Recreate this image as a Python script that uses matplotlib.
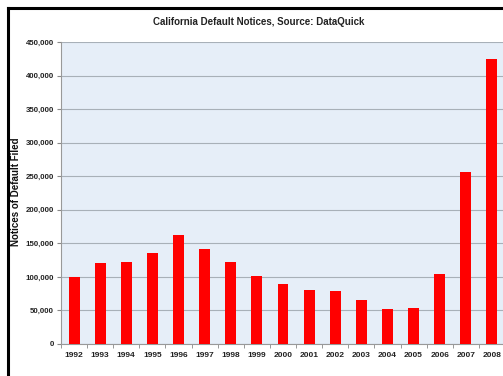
import matplotlib
matplotlib.use("Agg")
import matplotlib.pyplot as plt
from matplotlib.lines import Line2D
import numpy as np

years = ["1992", "1993", "1994", "1995", "1996", "1997", "1998", "1999", "2000",
         "2001", "2002", "2003", "2004", "2005", "2006", "2007", "2008"]
notices = [100300, 121000, 122600, 135600, 162000, 141600, 122600, 101000, 89000,
           81000, 78500, 65600, 51700, 54000, 104800, 255800, 425000]
yticks = [0, 50000, 100000, 150000, 200000, 250000, 300000, 350000, 400000, 450000]

plt.rcParams['font.family'] = ['Liberation Sans', 'DejaVu Sans']

W, H = 503, 376
fig = plt.figure(figsize=(W / 100, H / 100), dpi=100)
fig.patch.set_facecolor('white')

ax = fig.add_axes([61 / W, 1 - 344 / H, 444 / W, 302 / H])
ax.set_facecolor('#e6eef8')
x = np.arange(len(years))
ax.bar(x, notices, width=0.42, color='#ff0000', zorder=3)
ax.set_xlim(-0.5, len(years) - 0.5)
ax.set_ylim(0, 450000)
ax.set_yticks(yticks)
ax.set_yticklabels([f"{v:,}" for v in yticks], fontsize=5.7, fontweight='bold', color='#222222')
ax.set_xticks(x)
ax.set_xticklabels(years, fontsize=6, fontweight='bold', color='#222222')
ax.set_xticks(np.arange(len(years) + 1) - 0.5, minor=True)
ax.tick_params(axis='x', which='major', length=0, pad=6)
ax.tick_params(axis='x', which='minor', length=3, color='#888888', direction='out')
ax.tick_params(axis='y', length=3, color='#888888', direction='out', pad=2)
ax.grid(axis='y', color='#a8b0b8', linewidth=0.8, zorder=1)
for s in ['top', 'right']:
    ax.spines[s].set_visible(False)
for s in ['left', 'bottom']:
    ax.spines[s].set_color('#999999')
    ax.spines[s].set_linewidth(0.8)

fig.text(16 / W, 1 - 192 / H, "Notices of Default Filed", rotation=90,
         ha='center', va='center', fontsize=7, fontweight='bold', color='#111111')

fig.text(259 / W, 1 - 22 / H, "California Default Notices, Source: DataQuick",
         ha='center', va='center', fontsize=7, fontweight='bold', color='#222222')

# black frame
fig.add_artist(Line2D([8 / W, 1.0], [1 - 8 / H, 1 - 8 / H], color='black', linewidth=2.2,
                      transform=fig.transFigure))
fig.add_artist(Line2D([8 / W, 8 / W], [1 - 8 / H, 0], color='black', linewidth=2.2,
                      transform=fig.transFigure))

fig.savefig("out.png", dpi=100)
